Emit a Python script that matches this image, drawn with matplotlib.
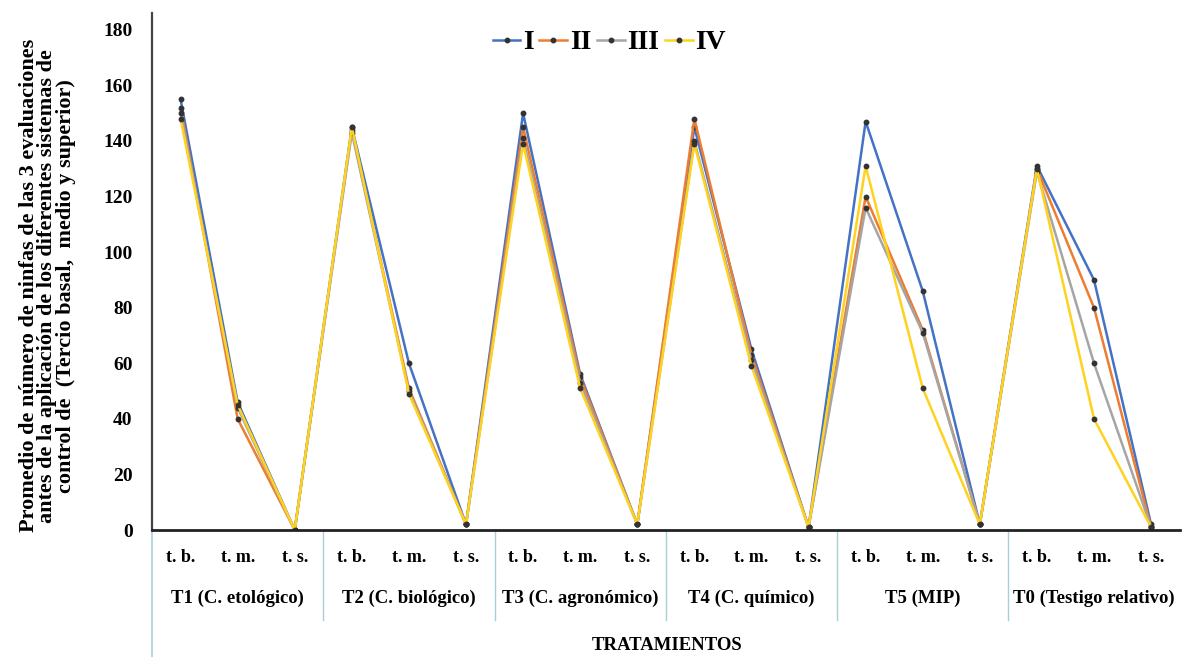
import matplotlib
matplotlib.use("Agg")
import matplotlib.pyplot as plt
from matplotlib.lines import Line2D
import matplotlib.transforms as mtransforms

plt.rcParams['font.family'] = ['Liberation Serif', 'DejaVu Serif']
plt.rcParams['font.weight'] = 'bold'

groups = ["T1 (C. etológico)", "T2 (C. biológico)", "T3 (C. agronómico)",
          "T4 (C. químico)", "T5 (MIP)", "T0 (Testigo relativo)"]
parts = ["t. b.", "t. m.", "t. s."]
series_names = ["I", "II", "III", "IV"]

s_I   = [155, 46, 0, 145, 60, 2, 150, 56, 2, 145, 65, 1, 147, 86, 2, 131, 90, 2]
s_II  = [152, 40, 0, 144, 51, 2, 145, 55, 2, 148, 63, 1, 120, 72, 2, 130, 80, 1]
s_III = [150, 44, 0, 143, 50, 2, 141, 53, 2, 140, 61, 1, 116, 71, 2, 129, 60, 1]
s_IV  = [148, 45, 0, 145, 49, 2, 139, 51, 2, 139, 59, 1, 131, 51, 2, 130, 40, 1]

colors = ["#4472C4", "#ED7D31", "#A5A5A5", "#FFD21F"]

fig = plt.figure(figsize=(11.82, 6.57), dpi=100)
ax = fig.add_axes([0.1286, 0.1933, 0.8694, 0.7867])

x = list(range(len(s_I)))
for name, vals, c in zip(series_names, [s_I, s_II, s_III, s_IV], colors):
    ax.plot(x, vals, color=c, lw=1.8, marker='o', ms=3.2,
            mfc='#333333', mec='#333333', label=name)

ax.set_xlim(-0.5, len(x) - 0.5)
ax.set_ylim(0, 186)
ax.set_yticks(range(0, 181, 20))
ax.tick_params(axis='y', length=0, labelsize=14, pad=14)
ax.set_xticks(x)
ax.set_xticklabels(parts * len(groups), fontsize=13)
ax.tick_params(axis='x', length=0, pad=14)
for lbl in ax.get_xticklabels() + ax.get_yticklabels():
    lbl.set_fontweight('bold')

for s in ['top', 'right']:
    ax.spines[s].set_visible(False)
ax.spines['bottom'].set_linewidth(2.0)
ax.spines['bottom'].set_color('#222222')
ax.spines['left'].set_linewidth(1.6)
ax.spines['left'].set_color('#444444')

trans = mtransforms.blended_transform_factory(ax.transData, ax.transAxes)
sep_color = "#A8D0D4"
for g in range(1, len(groups)):
    xs = g * 3 - 0.5
    ax.add_line(Line2D([xs, xs], [0, -0.175], transform=trans, color=sep_color,
                       lw=1.0, clip_on=False))
ax.add_line(Line2D([-0.5, -0.5], [0, -0.37], transform=trans, color=sep_color,
                   lw=1.2, clip_on=False))

for g, name in enumerate(groups):
    ax.text(g * 3 + 1, -0.133, name, transform=trans, ha='center', va='center',
            fontsize=13.5, fontweight='bold')

fig.text(0.5645, 0.017, "TRATAMIENTOS", ha='center', va='center',
         fontsize=13.5, fontweight='bold')

fig.text(0.040, 0.565,
         "Promedio de número de ninfas de las 3 evaluaciones\n"
         "antes de la aplicación de los diferentes sistemas de\n"
         "control de  (Tercio basal,  medio y superior)",
         rotation=90, ha='center', va='center', fontsize=16,
         fontweight='bold', linespacing=0.9)

leg = ax.legend(loc='upper center', bbox_to_anchor=(0.445, 1.0), ncol=4,
                frameon=False, fontsize=20, handlelength=1.0, handletextpad=0.1,
                columnspacing=0.2, borderpad=0.1)
for t in leg.get_texts():
    t.set_fontweight('bold')

fig.savefig("out.png", dpi=100)
